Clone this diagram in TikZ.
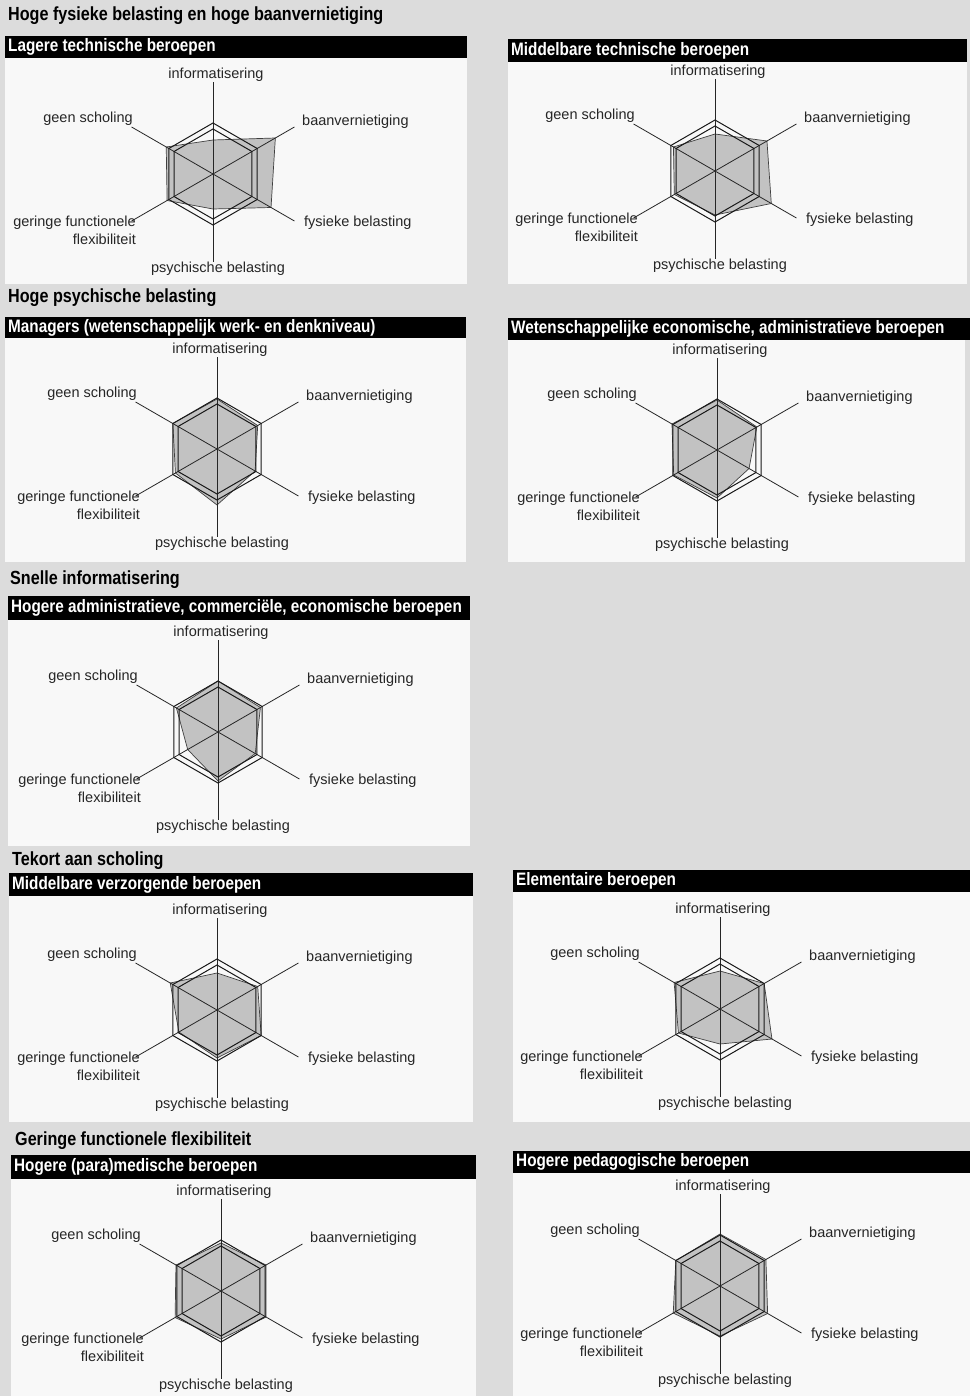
\documentclass[tikz,border=0pt]{standalone}
\usepackage{fontspec}
\setmainfont{Liberation Sans}
\newfontfamily\headfont[FakeStretch=0.85]{Liberation Sans}
\usetikzlibrary{positioning}

\definecolor{pagegray}{HTML}{DCDCDC}
\definecolor{panelwhite}{HTML}{F8F8F8}
\definecolor{valuegray}{HTML}{C2C2C2}

\tikzset{
  axisline/.style={line width=0.8pt, black!85},
  hexline/.style={line width=1pt, black!90},
  valuepoly/.style={fill=valuegray, draw=black!75, line width=0.7pt},
  axislabel/.style={font=\fontsize{14.5}{18}\selectfont, inner sep=0pt, text=black!85},
  sectiontitle/.style={font=\headfont\bfseries\fontsize{19}{20}\selectfont, anchor=west, inner sep=0pt},
  bartitle/.style={font=\headfont\bfseries\fontsize{18}{20}\selectfont, text=white, anchor=west, inner sep=0pt},
  titlebar/.style={fill=black},
  panel/.style={fill=panelwhite}
}

% spin chart: name, x, y, then values for
% informatisering, baanvernietiging, fysiek, psychisch, flexibiliteit, scholing
\newcommand{\spinchart}[9]{%
  \begin{scope}[shift={(#2,-#3)}]
    \coordinate (#1-c) at (0,0);
    \foreach \ang/\len/\tag in {90/92/i,30/94/b,-30/94/f,-90/88/p,210/94/x,150/94/s}
      \coordinate (#1-\tag) at (\ang:\len);
    \filldraw[valuepoly] (90:#4) -- (30:#5) -- (-30:#6) -- (-90:#7) -- (210:#8) -- (150:#9) -- cycle;
    \foreach \tag in {i,b,f,p,x,s}
      \draw[axisline] (#1-c) -- (#1-\tag);
    \draw[hexline] (90:51) -- (30:51) -- (-30:51) -- (-90:51) -- (210:51) -- (150:51) -- cycle;
    \draw[hexline] (90:45) -- (30:45) -- (-30:45) -- (-90:45) -- (210:45) -- (150:45) -- cycle;
    % labels
    \node[axislabel] (#1-info) at (3,99) {informatisering};
    \node[axislabel, anchor=west] (#1-baan) at (89,52) {baanvernietiging};
    \node[axislabel, anchor=west] (#1-fys) at (91,-49) {fysieke belasting};
    \node[axislabel] (#1-psy) at (5,-95) {psychische belasting};
    \node[axislabel, anchor=east, align=right] (#1-flex) at (-77,-56) {geringe functionele\\flexibiliteit};
    \node[axislabel, anchor=east] (#1-schol) at (-80,55) {geen scholing};
  \end{scope}}

\begin{document}
\begin{tikzpicture}[x=1pt, y=1pt]
  \useasboundingbox (0,0) rectangle (970,-1396);
  \fill[pagegray] (0,0) rectangle (970,-1396);

  % panels
  \fill[panel] (5,-58) rectangle (467,-284);
  \fill[panel] (508,-62) rectangle (967,-284);
  \fill[panel] (5,-338) rectangle (466,-562);
  \fill[panel] (508,-340) rectangle (965,-562);
  \fill[panel] (8,-620) rectangle (470,-846);
  \fill[panel] (9,-896) rectangle (473,-1122);
  \fill[panel] (513,-892) rectangle (970,-1122);
  \fill[panel] (11,-1179) rectangle (476,-1396);
  \fill[panel] (513,-1173) rectangle (970,-1396);

  % section headings
  \node[sectiontitle] (h-fys) at (8,-16) {Hoge fysieke belasting en hoge baanvernietiging};
  \node[sectiontitle] (h-psy) at (8,-298) {Hoge psychische belasting};
  \node[sectiontitle] (h-info) at (10,-580) {Snelle informatisering};
  \node[sectiontitle] (h-schol) at (12,-861) {Tekort aan scholing};
  \node[sectiontitle] (h-flex) at (15,-1141) {Geringe functionele flexibiliteit};

  % title bars
  \fill[titlebar] (5,-36) rectangle (467,-58);
  \node[bartitle] (t-lt) at (8,-47) {Lagere technische beroepen};
  \fill[titlebar] (508,-39) rectangle (967,-62);
  \node[bartitle] (t-mt) at (511,-50.5) {Middelbare technische beroepen};
  \fill[titlebar] (5,-317) rectangle (466,-338);
  \node[bartitle] (t-man) at (8,-327.5) {Managers (wetenschappelijk werk- en denkniveau)};
  \fill[titlebar] (508,-318) rectangle (970,-340);
  \node[bartitle] (t-wea) at (511,-329) {Wetenschappelijke economische, administratieve beroepen};
  \fill[titlebar] (8,-596) rectangle (470,-620);
  \node[bartitle] (t-hace) at (11,-608) {Hogere administratieve, commerciële, economische beroepen};
  \fill[titlebar] (9,-873) rectangle (473,-896);
  \node[bartitle] (t-mv) at (12,-884.5) {Middelbare verzorgende beroepen};
  \fill[titlebar] (513,-870) rectangle (970,-892);
  \node[bartitle] (t-el) at (516,-881) {Elementaire beroepen};
  \fill[titlebar] (11,-1155) rectangle (476,-1179);
  \node[bartitle] (t-pm) at (14,-1167) {Hogere (para)medische beroepen};
  \fill[titlebar] (513,-1151) rectangle (970,-1173);
  \node[bartitle] (t-ped) at (516,-1162) {Hogere pedagogische beroepen};

  % charts
  \spinchart{lt}{213}{174}{34}{72}{67}{35}{53}{54}
  \spinchart{mt}{715}{171}{37}{60}{65}{44}{47}{48}
  \spinchart{man}{217}{449}{50}{47}{44}{56}{48}{51}
  \spinchart{wea}{717}{450}{50}{46}{37}{48}{50}{52}
  \spinchart{hace}{218}{732}{51}{49}{43}{49}{35}{48}
  \spinchart{mv}{217}{1010}{37}{47}{51}{48}{44}{54}
  \spinchart{el}{720}{1009}{38}{51}{60}{35}{48}{53}
  \spinchart{pm}{221}{1291}{48}{52}{52}{48}{53}{52}
  \spinchart{ped}{720}{1286}{52}{53}{55}{50}{54}{51}
\end{tikzpicture}
\end{document}
